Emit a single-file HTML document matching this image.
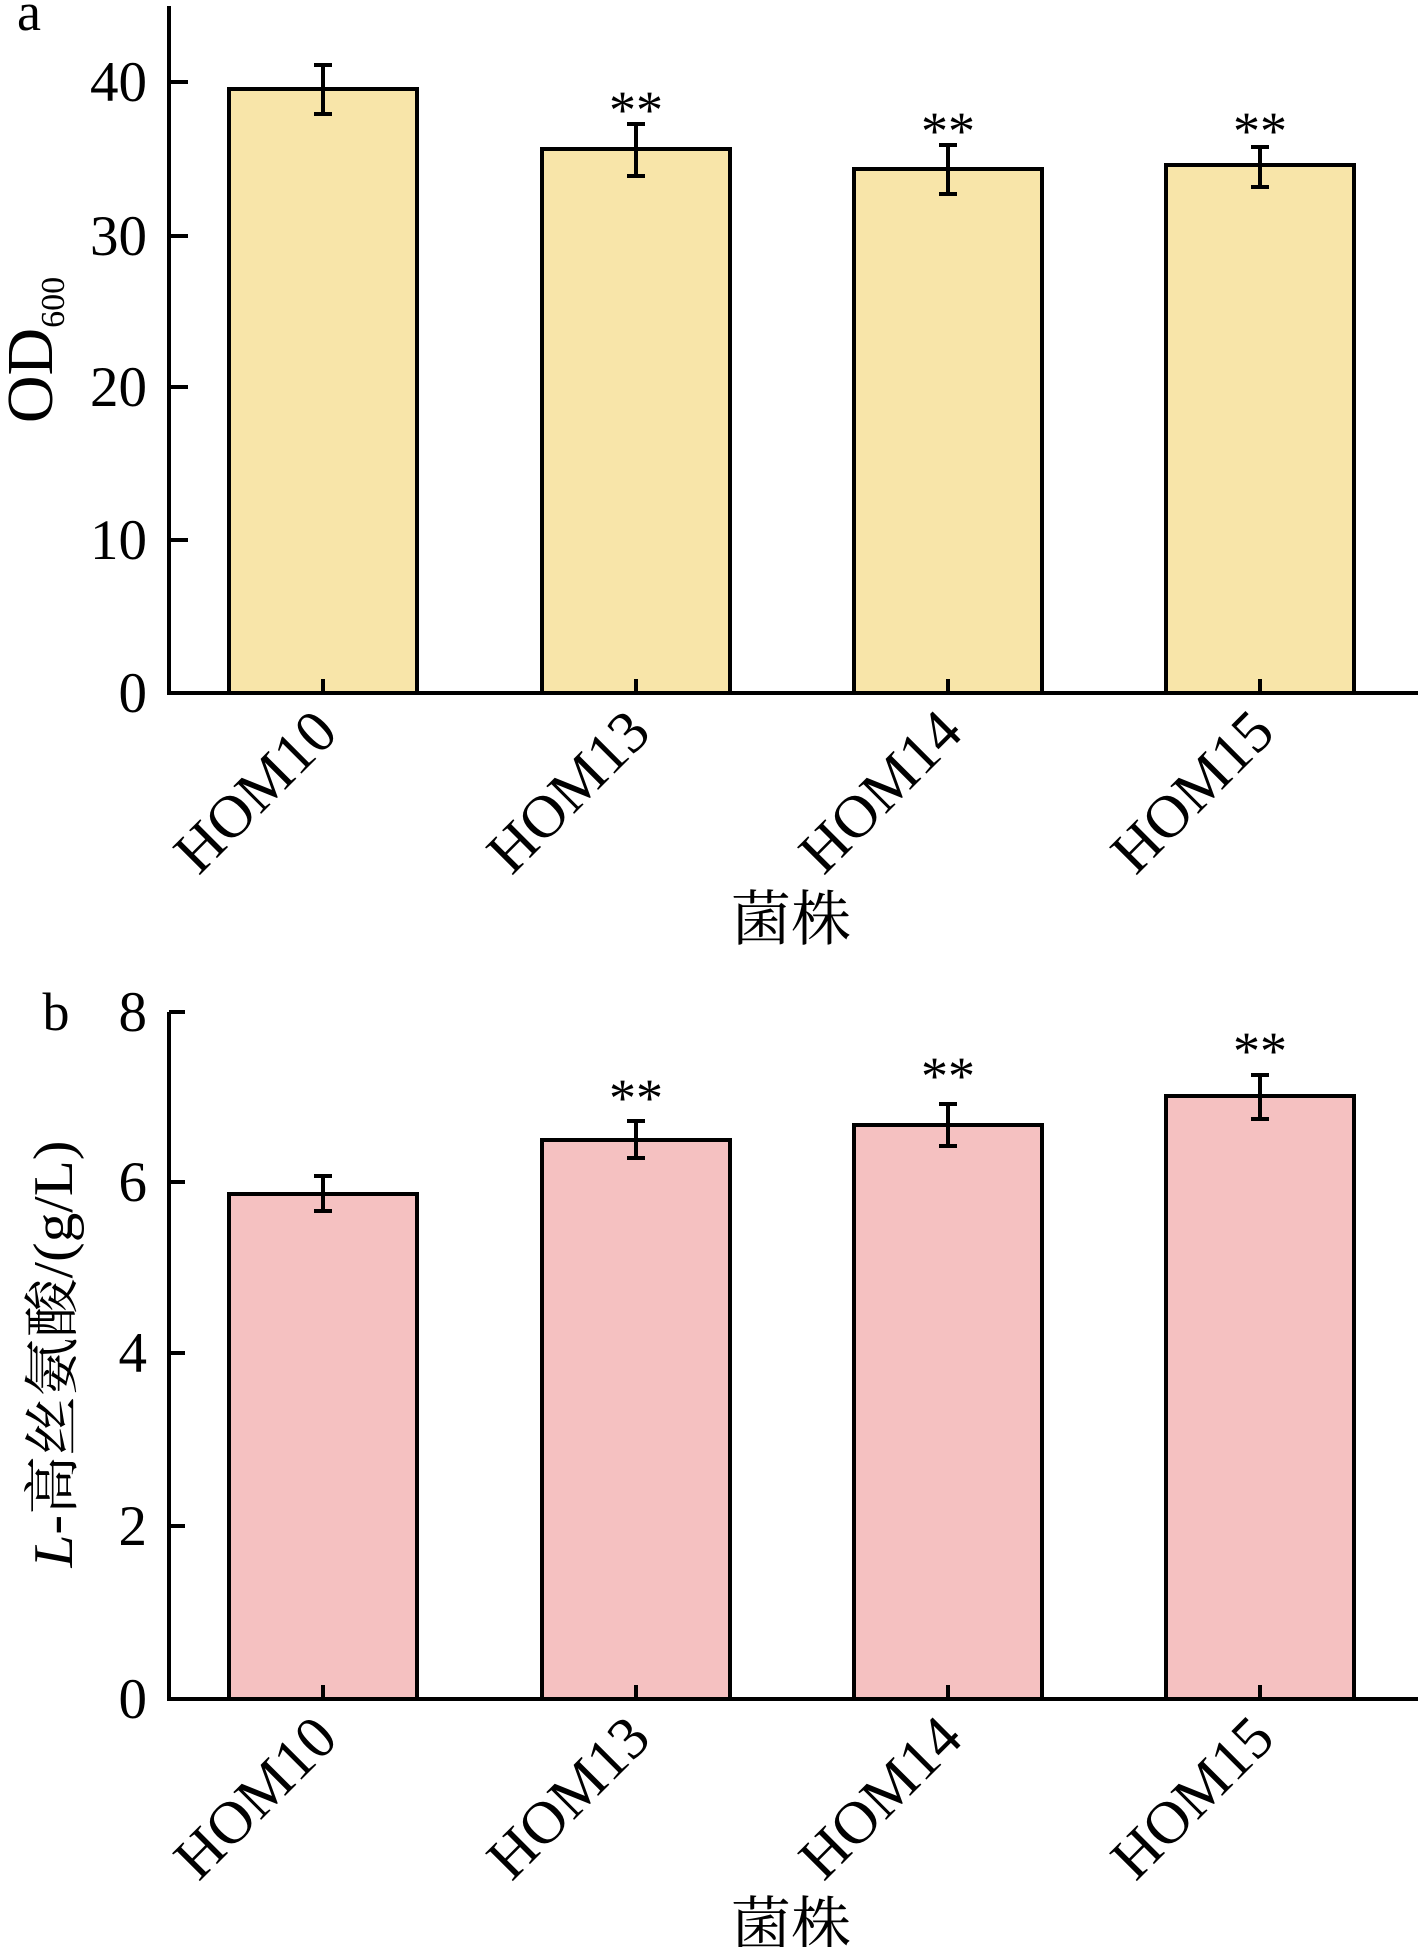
<!DOCTYPE html>
<html><head><meta charset="utf-8"><style>
html,body{margin:0;padding:0;background:#fff;}
svg{display:block;}
text{font-family:"Liberation Serif","Noto Serif CJK SC",serif;fill:#000;}
</style></head><body>
<svg width="1418" height="1947" viewBox="0 0 1418 1947" xmlns="http://www.w3.org/2000/svg">
<!-- Panel a -->
<text x="29" y="30" font-size="54" text-anchor="middle">a</text>
<g fill="#f8e5a9" stroke="#000" stroke-width="4">
<rect x="229" y="89" width="188" height="604"/>
<rect x="542" y="149" width="188" height="544"/>
<rect x="854" y="169" width="188" height="524"/>
<rect x="1166" y="165" width="188" height="528"/>
</g>
<g stroke="#000" stroke-width="4">
<line x1="323" y1="65" x2="323" y2="114"/><line x1="314" y1="65" x2="332" y2="65"/><line x1="314" y1="114" x2="332" y2="114"/>
<line x1="636" y1="124" x2="636" y2="176"/><line x1="627" y1="124" x2="645" y2="124"/><line x1="627" y1="176" x2="645" y2="176"/>
<line x1="948" y1="145" x2="948" y2="194"/><line x1="939" y1="145" x2="957" y2="145"/><line x1="939" y1="194" x2="957" y2="194"/>
<line x1="1260" y1="147" x2="1260" y2="187"/><line x1="1251" y1="147" x2="1269" y2="147"/><line x1="1251" y1="187" x2="1269" y2="187"/>
<line x1="169" y1="6" x2="169" y2="695"/>
<line x1="167" y1="693" x2="1418" y2="693"/>
<line x1="169" y1="82" x2="188" y2="82"/><line x1="169" y1="236" x2="188" y2="236"/><line x1="169" y1="387" x2="188" y2="387"/><line x1="169" y1="540" x2="188" y2="540"/>
<line x1="323" y1="693" x2="323" y2="679"/><line x1="636" y1="693" x2="636" y2="679"/><line x1="948" y1="693" x2="948" y2="679"/><line x1="1260" y1="693" x2="1260" y2="679"/>
</g>
<g font-size="57" text-anchor="end">
<text x="147" y="101">40</text><text x="147" y="255">30</text><text x="147" y="406">20</text><text x="147" y="559">10</text><text x="147" y="712">0</text>
</g>
<g font-size="54" text-anchor="middle">
<text x="636" y="128">**</text><text x="948" y="149">**</text><text x="1260" y="149">**</text>
</g>
<g font-size="60" text-anchor="end">
<text transform="translate(340,735) rotate(-45)">HOM10</text>
<text transform="translate(653,735) rotate(-45)">HOM13</text>
<text transform="translate(965,735) rotate(-45)">HOM14</text>
<text transform="translate(1277,735) rotate(-45)">HOM15</text>
</g>
<text x="791" y="940" font-size="60" text-anchor="middle">菌株</text>
<text transform="translate(52,350) rotate(-90)" font-size="66" text-anchor="middle">OD<tspan font-size="34" dy="12">600</tspan></text>

<!-- Panel b -->
<text x="56" y="1030" font-size="54" text-anchor="middle">b</text>
<g fill="#f5c1c1" stroke="#000" stroke-width="4">
<rect x="229" y="1194" width="188" height="505"/>
<rect x="542" y="1140" width="188" height="559"/>
<rect x="854" y="1125" width="188" height="574"/>
<rect x="1166" y="1096" width="188" height="603"/>
</g>
<g stroke="#000" stroke-width="4">
<line x1="323" y1="1176" x2="323" y2="1211"/><line x1="314" y1="1176" x2="332" y2="1176"/><line x1="314" y1="1211" x2="332" y2="1211"/>
<line x1="636" y1="1121" x2="636" y2="1158"/><line x1="627" y1="1121" x2="645" y2="1121"/><line x1="627" y1="1158" x2="645" y2="1158"/>
<line x1="948" y1="1104" x2="948" y2="1146"/><line x1="939" y1="1104" x2="957" y2="1104"/><line x1="939" y1="1146" x2="957" y2="1146"/>
<line x1="1260" y1="1075" x2="1260" y2="1119"/><line x1="1251" y1="1075" x2="1269" y2="1075"/><line x1="1251" y1="1119" x2="1269" y2="1119"/>
<line x1="169" y1="1012" x2="169" y2="1701"/>
<line x1="167" y1="1699" x2="1418" y2="1699"/>
<line x1="169" y1="1012" x2="185" y2="1012"/><line x1="169" y1="1182" x2="185" y2="1182"/><line x1="169" y1="1353" x2="185" y2="1353"/><line x1="169" y1="1526" x2="185" y2="1526"/>
<line x1="323" y1="1699" x2="323" y2="1685"/><line x1="636" y1="1699" x2="636" y2="1685"/><line x1="948" y1="1699" x2="948" y2="1685"/><line x1="1260" y1="1699" x2="1260" y2="1685"/>
</g>
<g font-size="57" text-anchor="end">
<text x="147" y="1031">8</text><text x="147" y="1201">6</text><text x="147" y="1372">4</text><text x="147" y="1545">2</text><text x="147" y="1718">0</text>
</g>
<g font-size="54" text-anchor="middle">
<text x="636" y="1116">**</text><text x="948" y="1094">**</text><text x="1260" y="1069">**</text>
</g>
<g font-size="60" text-anchor="end">
<text transform="translate(340,1741) rotate(-45)">HOM10</text>
<text transform="translate(653,1741) rotate(-45)">HOM13</text>
<text transform="translate(965,1741) rotate(-45)">HOM14</text>
<text transform="translate(1277,1741) rotate(-45)">HOM15</text>
</g>
<text x="791" y="1946" font-size="60" text-anchor="middle">菌株</text>
<text transform="translate(72,1354) rotate(-90)" font-size="56" text-anchor="middle" textLength="427" lengthAdjust="spacingAndGlyphs"><tspan font-style="italic">L</tspan>-高丝氨酸/(g/L)</text>
</svg>
</body></html>
